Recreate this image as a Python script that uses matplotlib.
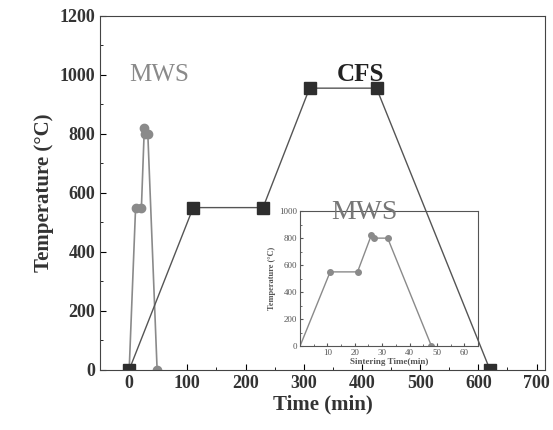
import matplotlib
matplotlib.use("Agg")
import matplotlib.pyplot as plt
from matplotlib.ticker import MultipleLocator

# MWS (microwave sintering) profile
mws_t = [0, 11, 21, 26, 27, 32, 48]
mws_T = [0, 550, 550, 820, 800, 800, 0]
# CFS (conventional furnace sintering) profile
cfs_t = [0, 110, 230, 310, 425, 620]
cfs_T = [0, 550, 550, 955, 955, 0]

plt.rcParams['font.family'] = ['Liberation Serif', 'DejaVu Serif']

fig = plt.figure(figsize=(5.53, 4.30), dpi=100)
ax = fig.add_axes([0.181, 0.14, 0.805, 0.823])

ax.plot(mws_t, mws_T, color='#8a8a8a', lw=1.2, marker='o', ms=6,
        mfc='#8a8a8a', mec='#8a8a8a')
ax.plot(cfs_t, cfs_T, color='#555555', lw=1.0, marker='s', ms=8,
        mfc='#2e2e2e', mec='#2e2e2e')

ax.set_xlim(-50, 715)
ax.set_ylim(0, 1200)
ax.xaxis.set_major_locator(MultipleLocator(100))
ax.xaxis.set_minor_locator(MultipleLocator(50))
ax.yaxis.set_major_locator(MultipleLocator(200))
ax.yaxis.set_minor_locator(MultipleLocator(100))
ax.tick_params(which='both', direction='in', top=False, right=False)
ax.tick_params(which='major', length=4, labelsize=13)
ax.tick_params(which='minor', length=2)
for lab in ax.get_xticklabels() + ax.get_yticklabels():
    lab.set_fontweight('bold')
    lab.set_color('#333333')
ax.set_xlabel('Time (min)', fontsize=15, fontweight='bold', color='#333333', labelpad=2)
ax.set_ylabel('Temperature (°C)', fontsize=15, fontweight='bold', color='#333333', labelpad=4)
for s in ax.spines.values():
    s.set_color('#444444')

ax.text(0, 1000, 'MWS', fontsize=18, color='#8a8a8a', va='center', ha='left')
ax.text(397, 1000, 'CFS', fontsize=18, fontweight='bold', color='#222222',
        va='center', ha='center')

# inset with MWS detail (transparent so the CFS line shows through)
ins = fig.add_axes([0.5425, 0.195, 0.322, 0.314])
ins.patch.set_alpha(0)
ins.plot(mws_t, mws_T, color='#8a8a8a', lw=1.0, marker='o', ms=4,
         mfc='#8a8a8a', mec='#8a8a8a', markevery=list(range(1, len(mws_t))))
ins.set_xlim(0, 65)
ins.set_ylim(0, 1000)
ins.xaxis.set_minor_locator(MultipleLocator(5))
ins.yaxis.set_major_locator(MultipleLocator(200))
ins.yaxis.set_minor_locator(MultipleLocator(100))
ins.set_xticks([10, 20, 30, 40, 50, 60])
ins.tick_params(which='both', direction='in', labelsize=6.5, colors='#555555', pad=2)
ins.tick_params(which='major', length=2.5)
ins.tick_params(which='minor', length=1.5)
ins.set_xlabel('Sintering Time(min)', fontsize=6.5, fontweight='bold', color='#555555', labelpad=1)
ins.set_ylabel('Temperature (°C)', fontsize=6, fontweight='bold', color='#555555', labelpad=2)
for s in ins.spines.values():
    s.set_color('#555555')
    s.set_linewidth(0.8)
ins.text(0.36, 0.99, 'MWS', transform=ins.transAxes, fontsize=20, color='#777777',
         ha='center', va='center')

fig.savefig('out.png', dpi=100)
